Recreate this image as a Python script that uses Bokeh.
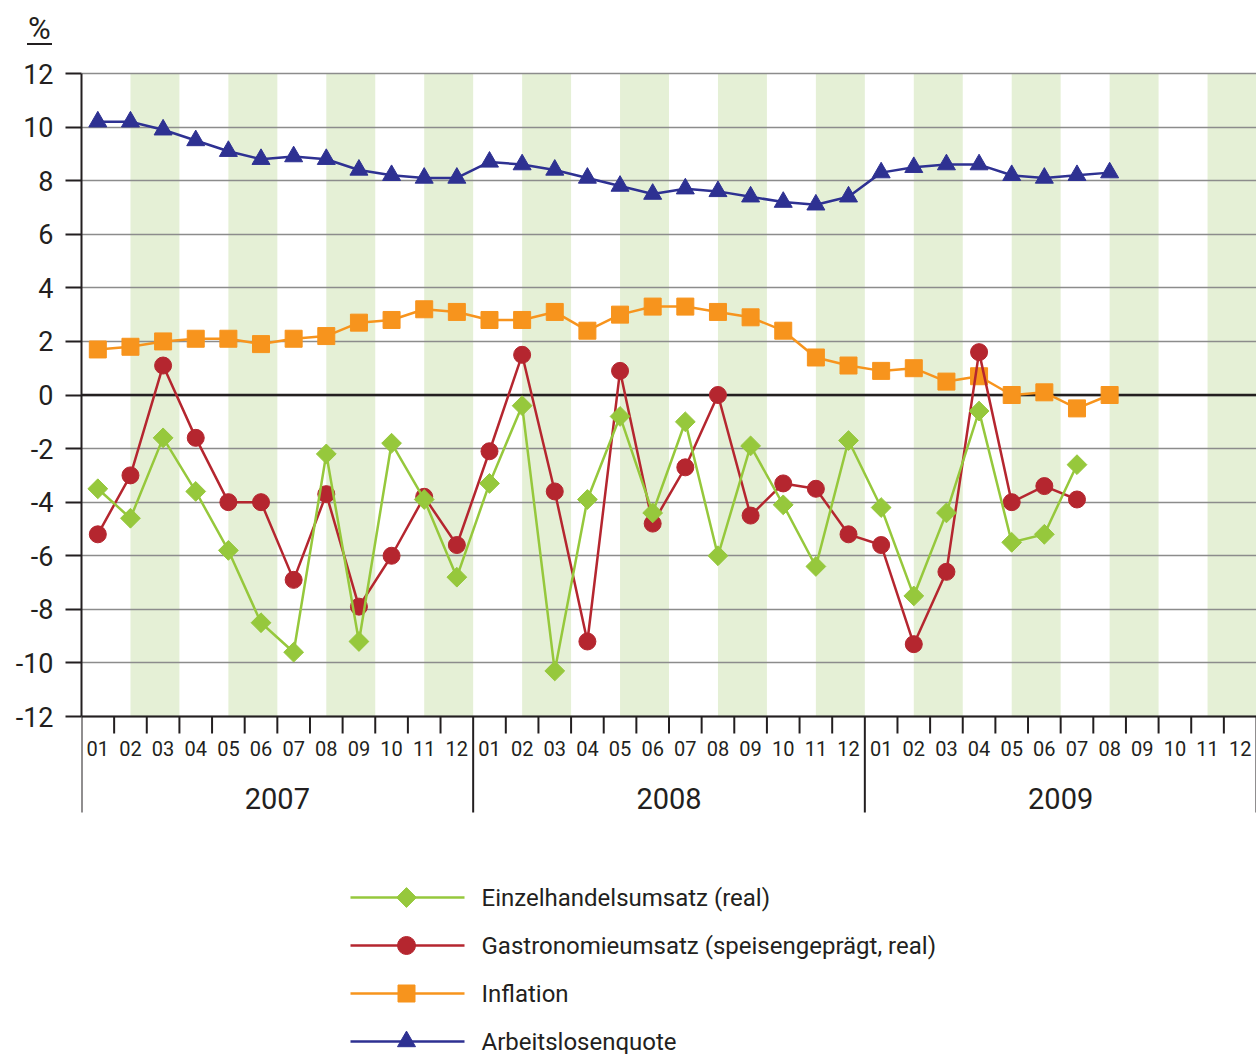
import numpy as np
from bokeh.plotting import figure
from bokeh.models import Range1d, FixedTicker, Div
from bokeh.layouts import column
from bokeh.core.properties import value
from bokeh.embed import file_html
from bokeh.resources import INLINE

# ---- data ----
months = ["01", "02", "03", "04", "05", "06", "07", "08", "09", "10", "11", "12"] * 3
years = ["2007", "2008", "2009"]
y_ticks = [-12, -10, -8, -6, -4, -2, 0, 2, 4, 6, 8, 10, 12]
y_tick_labels = ["-12", "-10", "-8", "-6", "-4", "-2", "0", "2", "4", "6", "8", "10", "12"]
unit_label = "%"

arbeitslosenquote = [10.2, 10.2, 9.9, 9.5, 9.1, 8.8, 8.9, 8.8, 8.4, 8.2, 8.1, 8.1,
                     8.7, 8.6, 8.4, 8.1, 7.8, 7.5, 7.7, 7.6, 7.4, 7.2, 7.1, 7.4,
                     8.3, 8.5, 8.6, 8.6, 8.2, 8.1, 8.2, 8.3]
inflation = [1.7, 1.8, 2.0, 2.1, 2.1, 1.9, 2.1, 2.2, 2.7, 2.8, 3.2, 3.1,
             2.8, 2.8, 3.1, 2.4, 3.0, 3.3, 3.3, 3.1, 2.9, 2.4, 1.4, 1.1,
             0.9, 1.0, 0.5, 0.7, 0.0, 0.1, -0.5, 0.0]
einzelhandel = [-3.5, -4.6, -1.6, -3.6, -5.8, -8.5, -9.6, -2.2, -9.2, -1.8, -3.9, -6.8,
                -3.3, -0.4, -10.3, -3.9, -0.8, -4.4, -1.0, -6.0, -1.9, -4.1, -6.4, -1.7,
                -4.2, -7.5, -4.4, -0.6, -5.5, -5.2, -2.6]
gastronomie = [-5.2, -3.0, 1.1, -1.6, -4.0, -4.0, -6.9, -3.7, -7.9, -6.0, -3.8, -5.6,
               -2.1, 1.5, -3.6, -9.2, 0.9, -4.8, -2.7, 0.0, -4.5, -3.3, -3.5, -5.2,
               -5.6, -9.3, -6.6, 1.6, -4.0, -3.4, -3.9]

series_names = ["Einzelhandelsumsatz (real)", "Gastronomieumsatz (speisengeprägt, real)",
                "Inflation", "Arbeitslosenquote"]

GREEN = "#96c83c"
RED = "#b5262f"
ORANGE = "#f7941d"
BLUE = "#2e3192"
DARK = "#231f20"
GRID = "#8c8c8c"
BAND = "#e5f0d6"
FONT = "Roboto"

# ---- layout helpers (page pixel -> data) ----
W = 1256
DIV_H = 48
FIG_H = 1054 - DIV_H
LEFT = 81
PX_PER_UNIT = (716 - 73) / 24.0
N = 36
PX_PER_MONTH = (W - LEFT) / N


def py(page_y):
    return 12 - (page_y - 73) / PX_PER_UNIT


def px(page_x):
    return (page_x - LEFT) / PX_PER_MONTH


p = figure(width=W, height=FIG_H, output_backend="svg", toolbar_location=None,
           x_range=Range1d(0, N), y_range=Range1d(py(DIV_H + FIG_H), py(DIV_H)),
           min_border_left=LEFT, min_border_right=0, min_border_top=0, min_border_bottom=0,
           outline_line_color=None, x_axis_location=None)
p.background_fill_color = "white"
p.border_fill_color = "white"

ticker = FixedTicker(ticks=y_ticks, minor_ticks=[])
yax = p.yaxis[0]
yax.ticker = ticker
yax.bounds = (-12, 12)
yax.major_label_overrides = {t: s for t, s in zip(y_ticks, y_tick_labels)}
yax.axis_line_color = DARK
yax.axis_line_width = 2
yax.major_tick_line_color = DARK
yax.major_tick_line_width = 2
yax.major_tick_out = 16
yax.major_tick_in = 0
yax.minor_tick_line_color = None
yax.major_label_text_font = FONT
yax.major_label_text_font_size = "27px"
yax.major_label_text_color = DARK
yax.major_label_standoff = 12

p.xgrid.grid_line_color = None
p.ygrid[0].ticker = ticker
p.ygrid[0].grid_line_color = GRID
p.ygrid[0].grid_line_width = 1.5

# shaded bands (every 1.5 months)
band_left = np.arange(1.5, N, 3.0)
p.quad(left=band_left, right=band_left + 1.5, bottom=-12, top=12,
       fill_color=BAND, line_color=None, level="image")

# zero line and bottom line
p.segment(x0=[0, 0], x1=[N, N], y0=[0, -12], y1=[0, -12], line_color=DARK, line_width=[2.5, 2])

# month tick marks and year separators
bounds_x = np.arange(0, N + 1)
is_year = (bounds_x % 12 == 0)
p.segment(x0=bounds_x, x1=bounds_x, y0=-12,
          y1=np.where(is_year, py(812), py(733)), line_color=DARK, line_width=2)

# month / year labels
xc = np.arange(N) + 0.5
p.text(x=xc, y=py(748), text=months, text_font=value(FONT), text_font_size="20px",
       text_color=DARK, text_align="center", text_baseline="middle")
p.text(x=[6, 18, 30], y=py(798), text=years, text_font=value(FONT), text_font_size="29px",
       text_color=DARK, text_align="center", text_baseline="middle")

# series
xa = np.arange(len(arbeitslosenquote)) + 0.5
xi = np.arange(len(inflation)) + 0.5
xe = np.arange(len(einzelhandel)) + 0.5
xg = np.arange(len(gastronomie)) + 0.5

p.line(xa, arbeitslosenquote, line_color=BLUE, line_width=2.5)
p.scatter(xa, arbeitslosenquote, marker="triangle", size=18, fill_color=BLUE, line_color=BLUE)
p.line(xi, inflation, line_color=ORANGE, line_width=2.5)
p.scatter(xi, inflation, marker="square", size=17, fill_color=ORANGE, line_color=ORANGE)
p.line(xg, gastronomie, line_color=RED, line_width=2.5)
p.scatter(xg, gastronomie, marker="circle", size=17, fill_color=RED, line_color=RED)
p.line(xe, einzelhandel, line_color=GREEN, line_width=2.5)
p.scatter(xe, einzelhandel, marker="square", angle=np.pi / 4, size=14, fill_color=GREEN, line_color=GREEN)

# legend (manual)
leg_y = [py(v) for v in (897, 945, 993, 1041)]
leg_colors = [GREEN, RED, ORANGE, BLUE]
p.segment(x0=px(350), x1=px(464), y0=leg_y, y1=leg_y, line_color=leg_colors, line_width=2.5)
p.scatter(px(406), leg_y[0], marker="square", angle=np.pi / 4, size=14, fill_color=GREEN, line_color=GREEN)
p.scatter(px(406), leg_y[1], marker="circle", size=18, fill_color=RED, line_color=RED)
p.scatter(px(406), leg_y[2], marker="square", size=17, fill_color=ORANGE, line_color=ORANGE)
p.scatter(px(406), leg_y[3], marker="triangle", size=18, fill_color=BLUE, line_color=BLUE)
p.text(x=px(481), y=leg_y, text=series_names, text_font=value(FONT), text_font_size="24px",
       text_color=DARK, text_align="left", text_baseline="middle")

# unit label "%" (underlined) above the axis
unit = Div(text=f'<span style="display:inline-block;border-bottom:2px solid {DARK};'
                f'padding:0 1px 0 1px;line-height:29px;">{unit_label}</span>',
           width=W, height=DIV_H, margin=0,
           styles={"font-family": FONT, "font-size": "31px", "color": DARK,
                   "padding-left": "27px", "padding-top": "7px", "box-sizing": "border-box"})

layout = column(unit, p, spacing=0)
open("out.html", "w").write(file_html(layout, INLINE))
